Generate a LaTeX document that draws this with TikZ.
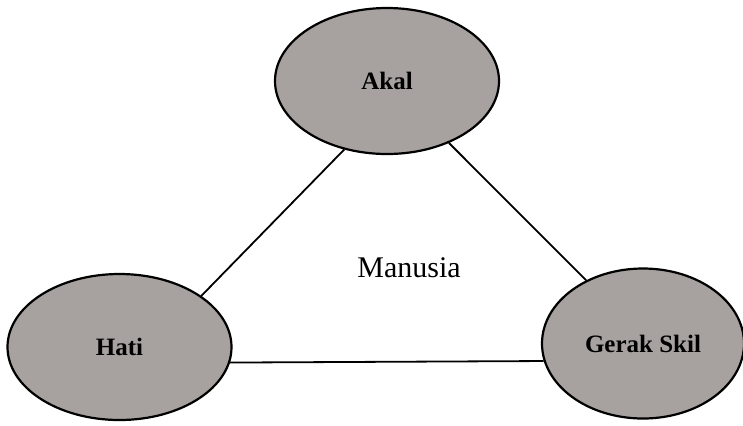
\documentclass[tikz,border=0pt]{standalone}
\usepackage{fontspec}
\setmainfont{Liberation Serif}
\usetikzlibrary{shapes.geometric}
\definecolor{ovalgray}{RGB}{167,162,159}
\begin{document}
\begin{tikzpicture}[x=0.5pt, y=-0.5pt, line width=0.9pt, main/.style = {draw, ellipse, fill=ovalgray, line width=1.1pt, minimum width=112pt, minimum height=73pt, font=\fontsize{12.5}{15}\selectfont\bfseries}]
        \useasboundingbox (0,0) rectangle (743,425);
        \node[main] (akal) at (387,81) {Akal};
        \node[main] (hati) at (119.5,347) {Hati};
        \node[main, minimum width=101pt, minimum height=75pt] (skil) at (643,343.5) {Gerak Skil};
        \node[font=\fontsize{15}{18}\selectfont] (manusia) at (409,268) {Manusia};
        \draw (akal.238) -- (hati.32);
        \draw (akal.315) -- (skil.132);
        \draw (hati.-8) -- (skil.190);
    \end{tikzpicture}
\end{document}
